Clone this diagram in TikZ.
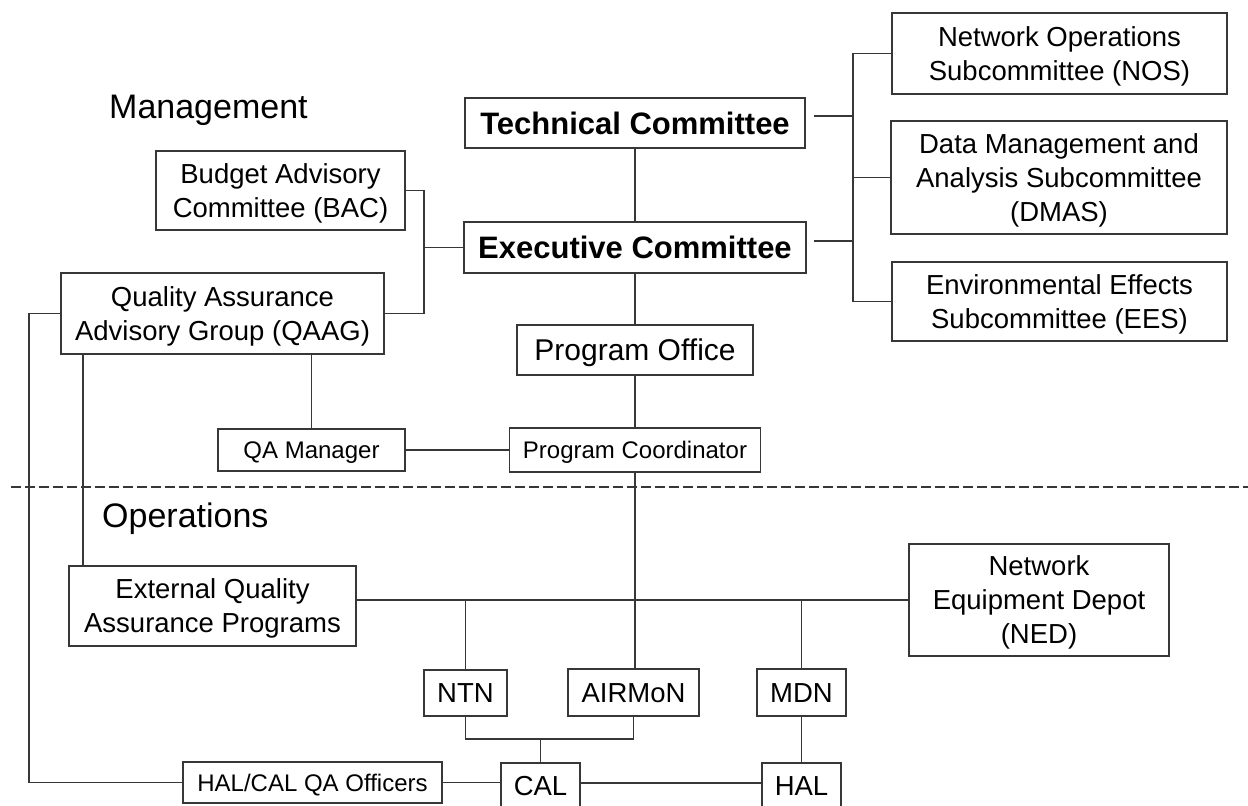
\documentclass[tikz,border=0pt]{standalone}
\usepackage{fontspec}
\setmainfont{Liberation Sans}
\definecolor{linec}{RGB}{55,55,55}
\begin{document}
\begin{tikzpicture}[x=1pt,y=-1pt,
  box/.style={draw=linec, line width=1.5pt, inner sep=0pt, align=center, fill=white},
  big/.style={font=\fontsize{27.5}{34}\selectfont},
  one/.style={big, text height=19.7pt, text depth=0pt},
  two/.style={big, text height=53.7pt, text depth=0pt},
  three/.style={big, text height=87.7pt, text depth=0pt},
  small/.style={font=\fontsize{24}{29}\selectfont, text height=17.2pt, text depth=0pt},
  office/.style={font=\fontsize{30}{36}\selectfont, text height=21.5pt, text depth=0pt},
  head/.style={font=\bfseries\fontsize{31}{37}\selectfont, text height=22.2pt, text depth=0pt},
  area/.style={font=\fontsize{34}{40}\selectfont, anchor=base west, inner sep=0pt},
  conn/.style={draw=linec, line width=1.5pt},
]
\useasboundingbox (0,0) rectangle (1248,806);

% section titles
\node[area] (mgmt) at (109,118) {Management};
\node[area] (ops) at (102,527) {Operations};

% management boxes
\node[box, two, minimum width=249, minimum height=79] (bac) at (280.5,190.5) {Budget Advisory\\Committee (BAC)};
\node[box, two, minimum width=323, minimum height=81] (qaag) at (222.5,313.5) {Quality Assurance\\Advisory Group (QAAG)};
\node[box, head, minimum width=340, minimum height=50] (tc) at (635,123) {Technical Committee};
\node[box, head, minimum width=342, minimum height=51] (ec) at (635,247.5) {Executive Committee};
\node[box, office, minimum width=236, minimum height=50] (po) at (635,350) {Program Office};
\node[box, small, minimum width=251, minimum height=44] (pc) at (635,450) {Program Coordinator};
\node[box, small, minimum width=187, minimum height=42] (qam) at (311.5,450) {QA Manager};
\node[box, two, minimum width=335, minimum height=81] (nos) at (1059.5,53.5) {Network Operations\\Subcommittee (NOS)};
\node[box, three, minimum width=336, minimum height=113] (dmas) at (1059,177.5) {Data Management and\\Analysis Subcommittee\\(DMAS)};
\node[box, two, minimum width=335, minimum height=79] (ees) at (1059.5,301.5) {Environmental Effects\\Subcommittee (EES)};

% operations boxes
\node[box, two, minimum width=287, minimum height=80] (eqa) at (212.5,606) {External Quality\\Assurance Programs};
\node[box, three, minimum width=260, minimum height=112] (ned) at (1039,600) {Network\\Equipment Depot\\(NED)};
\node[box, one, minimum width=83, minimum height=46] (ntn) at (465.5,693) {NTN};
\node[box, one, minimum width=131, minimum height=47] (air) at (633.5,692.5) {AIRMoN};
\node[box, one, minimum width=89, minimum height=47] (mdn) at (801.5,692.5) {MDN};
\node[box, small, minimum width=259, minimum height=41] (hcqa) at (312.5,782.5) {HAL/CAL QA Officers};
\node[box, one, minimum width=79, minimum height=46] (cal) at (540.5,786) {CAL};
\node[box, one, minimum width=79, minimum height=46] (hal) at (801.5,786) {HAL};

% separator between management and operations
\draw[draw=linec, line width=1.3pt, dash pattern=on 10pt off 4pt] (11,487) -- (1248,487);

% helper columns for the bus lines
\coordinate (sb) at (853,0);
\coordinate (lb) at (424,0);
\coordinate (ll) at (29,0);
\coordinate (qx) at (83,0);
\coordinate (jn) at (542,739);
\coordinate (tcr) at ([yshift=7pt]tc.east);
\coordinate (ecr) at ([yshift=6.5pt]ec.east);
\coordinate (calr) at ([yshift=3pt]cal.east);

% subcommittee bus
\draw[conn] (nos.west) -- (nos.west -| sb) -- (ees.west -| sb) -- (ees.west);
\draw[conn] (dmas.west) -- (dmas.west -| sb);
\draw[conn, shorten <=8pt] (tcr) -- (tcr -| sb);
\draw[conn, shorten <=7pt] (ecr) -- (ecr -| sb);

% advisory bus
\draw[conn] (bac.east) -- (bac.east -| lb) -- (qaag.east -| lb) -- (qaag.east);
\draw[conn] (ec.west) -- (ec.west -| lb);

% QAAG links
\draw[conn] (qaag.west) -- (qaag.west -| ll) -- (hcqa.west -| ll) -- (hcqa.west);
\draw[conn] (qaag.south -| qx) -- (eqa.north -| qx);
\draw[conn] (qaag.south -| qam.north) -- (qam.north);
\draw[conn] (qam.east) -- (pc.west);

% main chain
\draw[conn] (tc) -- (ec);
\draw[conn] (ec) -- (po);
\draw[conn] (po) -- (pc);
\draw[conn] (pc.south) -- (pc.south |- air.north);

% operations bus
\draw[conn] (eqa.east |- ned.west) -- (ned.west);
\draw[conn] (ntn.north) -- (ntn.north |- ned.west);
\draw[conn] (mdn.north) -- (mdn.north |- ned.west);
\draw[conn] (ntn.south) -- (ntn.south |- jn) -| (air.south);
\draw[conn] (cal.north |- jn) -- (cal.north);
\draw[conn] (mdn) -- (hal);
\draw[conn] (hcqa.east) -- (hcqa.east -| cal.west);
\draw[conn] (calr) -- (calr -| hal.west);
\end{tikzpicture}
\end{document}
